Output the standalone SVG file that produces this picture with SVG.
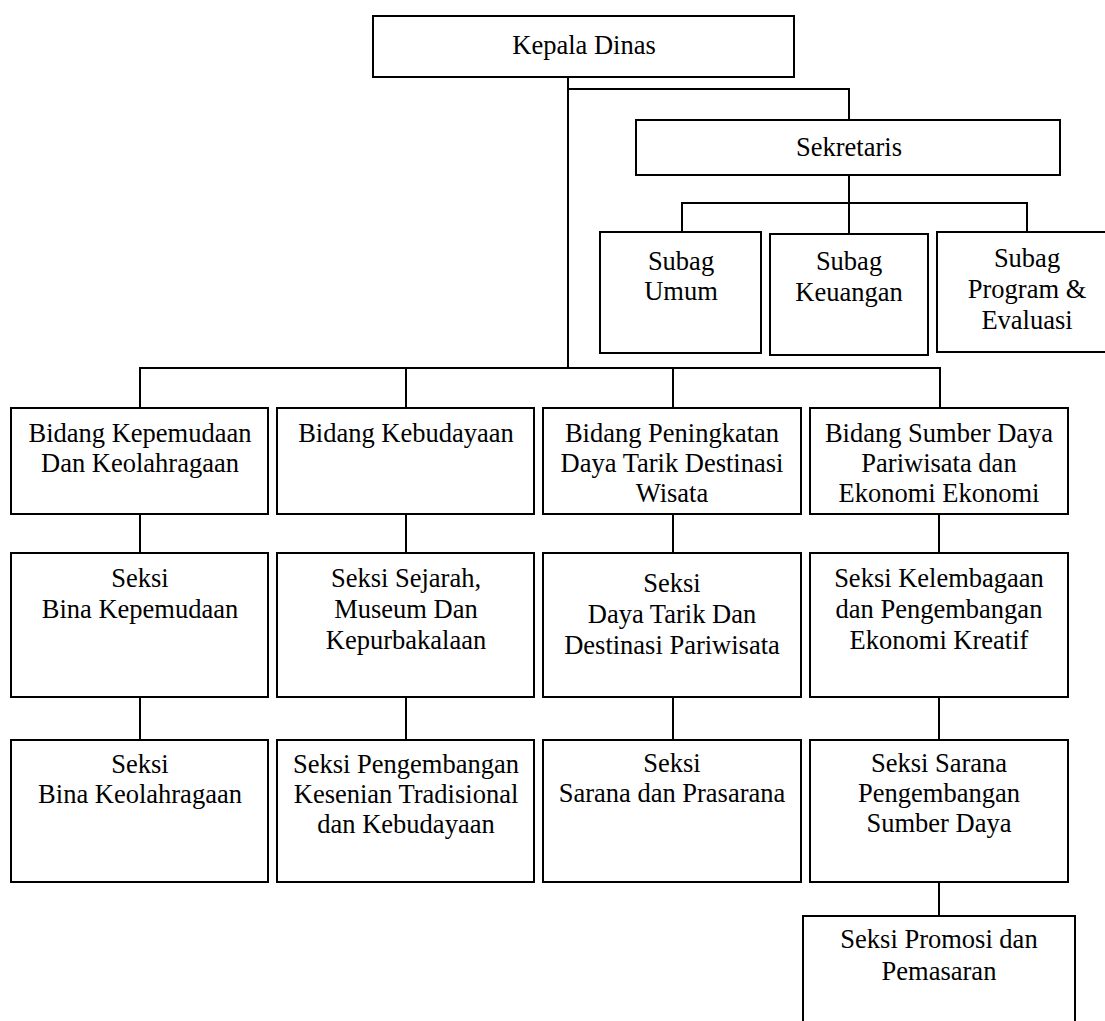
<svg xmlns="http://www.w3.org/2000/svg" width="1105" height="1021" viewBox="0 0 1105 1021">
<style>
  .box { fill: #fff; stroke: #000; stroke-width: 2; }
  .ln { stroke: #000; stroke-width: 2; fill: none; }
  text { font-family: "Liberation Serif", "Times New Roman", serif; font-size: 26.5px; fill: #000; text-anchor: middle; }
</style>
<rect x="0" y="0" width="1105" height="1021" fill="#fff"/>
<g id="connectors">
  <path class="ln" d="M568,77 V368"/>
  <path class="ln" d="M568,89 H849 V120"/>
  <path class="ln" d="M849,175 V234"/>
  <path class="ln" d="M682,232 V203 H1027 V232"/>
  <path class="ln" d="M140,408 V368 H940 V408"/>
  <path class="ln" d="M406,368 V408"/>
  <path class="ln" d="M673,368 V408"/>
  <path class="ln" d="M140,514 V553"/>
  <path class="ln" d="M406,514 V553"/>
  <path class="ln" d="M673,514 V553"/>
  <path class="ln" d="M939,514 V553"/>
  <path class="ln" d="M140,697 V740"/>
  <path class="ln" d="M406,697 V740"/>
  <path class="ln" d="M673,697 V740"/>
  <path class="ln" d="M939,697 V740"/>
  <path class="ln" d="M939,882 V916"/>
</g>
<g id="kepala">
  <rect class="box" x="373" y="16" width="421" height="61"/>
  <text x="584" y="54">Kepala Dinas</text>
</g>
<g id="sekretaris">
  <rect class="box" x="636" y="120" width="424" height="55"/>
  <text x="849" y="156">Sekretaris</text>
</g>
<g id="subag-umum">
  <rect class="box" x="600" y="232" width="161" height="121"/>
  <text x="681" y="270">Subag</text>
  <text x="681" y="300">Umum</text>
</g>
<g id="subag-keuangan">
  <rect class="box" x="770" y="234" width="158" height="121"/>
  <text x="849" y="270">Subag</text>
  <text x="849" y="301">Keuangan</text>
</g>
<g id="subag-program">
  <rect class="box" x="937" y="232" width="180" height="120"/>
  <text x="1027" y="267">Subag</text>
  <text x="1027" y="298">Program &amp;</text>
  <text x="1027" y="329">Evaluasi</text>
</g>
<g id="bidang-kepemudaan">
  <rect class="box" x="11" y="408" width="257" height="106"/>
  <text x="140" y="442">Bidang Kepemudaan</text>
  <text x="140" y="472">Dan Keolahragaan</text>
</g>
<g id="bidang-kebudayaan">
  <rect class="box" x="277" y="408" width="257" height="106"/>
  <text x="406" y="442">Bidang Kebudayaan</text>
</g>
<g id="bidang-peningkatan">
  <rect class="box" x="543" y="408" width="258" height="106"/>
  <text x="672" y="442">Bidang Peningkatan</text>
  <text x="672" y="472">Daya Tarik Destinasi</text>
  <text x="672" y="502">Wisata</text>
</g>
<g id="bidang-sumberdaya">
  <rect class="box" x="810" y="408" width="258" height="106"/>
  <text x="939" y="442">Bidang Sumber Daya</text>
  <text x="939" y="472">Pariwisata dan</text>
  <text x="939" y="502">Ekonomi Ekonomi</text>
</g>
<g id="seksi-bina-kepemudaan">
  <rect class="box" x="11" y="553" width="257" height="144"/>
  <text x="140" y="587">Seksi</text>
  <text x="140" y="618">Bina Kepemudaan</text>
</g>
<g id="seksi-sejarah">
  <rect class="box" x="277" y="553" width="257" height="144"/>
  <text x="406" y="587">Seksi Sejarah,</text>
  <text x="406" y="618">Museum Dan</text>
  <text x="406" y="649">Kepurbakalaan</text>
</g>
<g id="seksi-daya-tarik">
  <rect class="box" x="543" y="553" width="258" height="144"/>
  <text x="672" y="592">Seksi</text>
  <text x="672" y="623">Daya Tarik Dan</text>
  <text x="672" y="654">Destinasi Pariwisata</text>
</g>
<g id="seksi-kelembagaan">
  <rect class="box" x="810" y="553" width="258" height="144"/>
  <text x="939" y="587">Seksi Kelembagaan</text>
  <text x="939" y="618">dan Pengembangan</text>
  <text x="939" y="649">Ekonomi Kreatif</text>
</g>
<g id="seksi-bina-keolahragaan">
  <rect class="box" x="11" y="740" width="257" height="142"/>
  <text x="140" y="773">Seksi</text>
  <text x="140" y="803">Bina Keolahragaan</text>
</g>
<g id="seksi-kesenian">
  <rect class="box" x="277" y="740" width="257" height="142"/>
  <text x="406" y="773">Seksi Pengembangan</text>
  <text x="406" y="803">Kesenian Tradisional</text>
  <text x="406" y="833">dan Kebudayaan</text>
</g>
<g id="seksi-sarana-prasarana">
  <rect class="box" x="543" y="740" width="258" height="142"/>
  <text x="672" y="772">Seksi</text>
  <text x="672" y="802">Sarana dan Prasarana</text>
</g>
<g id="seksi-sarana-sumberdaya">
  <rect class="box" x="810" y="740" width="258" height="142"/>
  <text x="939" y="772">Seksi Sarana</text>
  <text x="939" y="802">Pengembangan</text>
  <text x="939" y="832">Sumber Daya</text>
</g>
<g id="seksi-promosi">
  <rect class="box" x="803" y="916" width="272" height="120"/>
  <text x="939" y="948">Seksi Promosi dan</text>
  <text x="939" y="980">Pemasaran</text>
</g>
</svg>
